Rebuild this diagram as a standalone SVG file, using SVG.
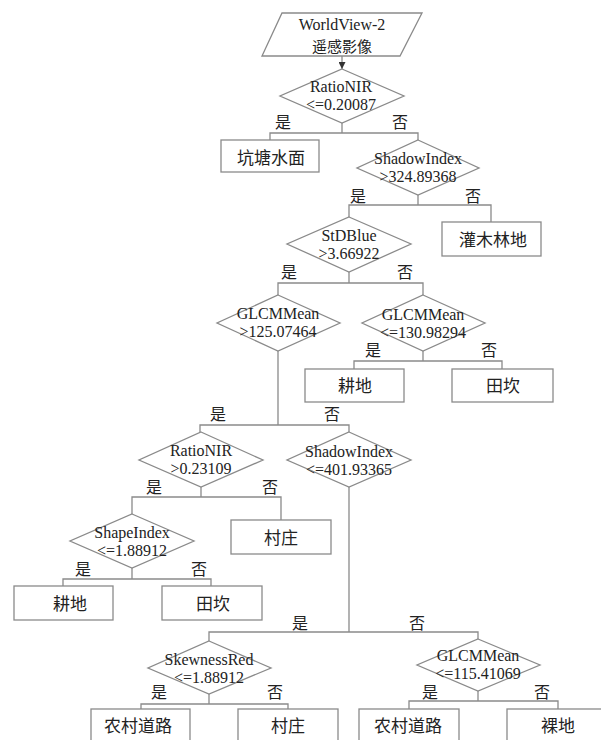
<svg xmlns="http://www.w3.org/2000/svg" width="601" height="740" viewBox="0 0 601 740">
<style>
.shape{fill:#fff;stroke:#8a8a8a;stroke-width:1.3}
.ln{fill:none;stroke:#8a8a8a;stroke-width:1.3}
text{font-family:"Liberation Serif","Noto Sans CJK SC",serif;fill:#222;text-anchor:middle}
.t{font-size:16px}
.c{font-size:17px;font-family:"Noto Sans CJK SC","Liberation Serif",serif}
.y{font-size:16px;font-family:"Noto Sans CJK SC","Liberation Serif",serif}
</style>
<defs>
<marker id="arr" viewBox="0 0 8 8" refX="8" refY="4" markerWidth="7" markerHeight="7" orient="auto" markerUnits="userSpaceOnUse">
<path d="M0,0 L8,4 L0,8 Z" fill="#333"/>
</marker>
</defs>
<rect width="601" height="740" fill="#fff"/>
<g id="connectors">
<line class="ln" x1="342" y1="56" x2="342" y2="69" marker-end="url(#arr)"/>
<path class="ln" d="M342,123 V133 M270,140 V133 H418 V140"/>
<path class="ln" d="M418,195 V205 M349,217 V205 H491 V222"/>
<path class="ln" d="M349,272 V283 M278,295 V283 H423 V295"/>
<path class="ln" d="M423,351 V361 M354,369 V361 H502 V369"/>
<path class="ln" d="M278,351 V425 M200,432 V425 H349 V432"/>
<path class="ln" d="M201,487 V497 M132,514 V497 H281 V520"/>
<path class="ln" d="M132,568 V579 M63,586 V579 H211 V586"/>
<path class="ln" d="M349,487 V632 M209,641 V632 H478 V639"/>
<path class="ln" d="M209,694 V704 M141,709 V704 H288 V709"/>
<path class="ln" d="M478,691 V701 M409,709 V701 H558 V709"/>
<g class="y">
<text x="283" y="128">是</text><text x="400" y="128">否</text>
<text x="358" y="202">是</text><text x="473" y="202">否</text>
<text x="289" y="278">是</text><text x="405" y="278">否</text>
<text x="373" y="356">是</text><text x="489" y="356">否</text>
<text x="218" y="420">是</text><text x="332" y="420">否</text>
<text x="154" y="493">是</text><text x="270" y="493">否</text>
<text x="83" y="575">是</text><text x="199" y="575">否</text>
<text x="300" y="629">是</text><text x="417" y="629">否</text>
<text x="159" y="698">是</text><text x="275" y="698">否</text>
<text x="430" y="698">是</text><text x="542" y="698">否</text>
</g>
</g>
<g id="input">
<polygon class="shape" points="282,13 422,13 400,56 262,56"/>
<text class="t" x="342" y="29.5">WorldView-2</text>
<text class="y" x="342" y="51.5" style="font-size:15px">遥感影像</text>
</g>
<g id="d1">
<polygon class="shape" points="342,69 404,96 342,123 280,96"/>
<text class="t" x="341" y="92">RatioNIR</text>
<text class="t" x="341" y="110">&lt;=0.20087</text>
</g>
<g id="b-pond">
<rect class="shape" x="221" y="140" width="98" height="32"/>
<text class="c" x="271" y="164">坑塘水面</text>
</g>
<g id="d2">
<polygon class="shape" points="418,140 479,168 418,195 357,168"/>
<text class="t" x="418" y="164">ShadowIndex</text>
<text class="t" x="418" y="182">&gt;324.89368</text>
</g>
<g id="b-shrub">
<rect class="shape" x="442" y="222" width="99" height="34"/>
<text class="c" x="493" y="246">灌木林地</text>
</g>
<g id="d3">
<polygon class="shape" points="349,217 411,244 349,272 287,244"/>
<text class="t" x="349" y="241">StDBlue</text>
<text class="t" x="349" y="259">&gt;3.66922</text>
</g>
<g id="d4">
<polygon class="shape" points="278,295 340,323 278,351 217,323"/>
<text class="t" x="278" y="319">GLCMMean</text>
<text class="t" x="278" y="337">&gt;125.07464</text>
</g>
<g id="d5">
<polygon class="shape" points="423,295 485,323 423,351 362,323"/>
<text class="t" x="423" y="320">GLCMMean</text>
<text class="t" x="423" y="338">&lt;=130.98294</text>
</g>
<g id="b-farm1">
<rect class="shape" x="305" y="369" width="99" height="33"/>
<text class="c" x="355" y="392">耕地</text>
</g>
<g id="b-ridge1">
<rect class="shape" x="452" y="369" width="101" height="33"/>
<text class="c" x="503" y="392">田坎</text>
</g>
<g id="d6">
<polygon class="shape" points="201,432 263,460 201,487 139,460"/>
<text class="t" x="201" y="456">RatioNIR</text>
<text class="t" x="201" y="474">&gt;0.23109</text>
</g>
<g id="d7">
<polygon class="shape" points="349,432 411,460 349,487 287,460"/>
<text class="t" x="349" y="457">ShadowIndex</text>
<text class="t" x="349" y="475">&lt;=401.93365</text>
</g>
<g id="b-village1">
<rect class="shape" x="231" y="520" width="100" height="34"/>
<text class="c" x="281" y="544">村庄</text>
</g>
<g id="d8">
<polygon class="shape" points="132,514 194,541 132,568 70,541"/>
<text class="t" x="132" y="538">ShapeIndex</text>
<text class="t" x="132" y="556">&lt;=1.88912</text>
</g>
<g id="b-farm2">
<rect class="shape" x="14" y="586" width="99" height="34"/>
<text class="c" x="70" y="610">耕地</text>
</g>
<g id="b-ridge2">
<rect class="shape" x="162" y="586" width="100" height="34"/>
<text class="c" x="213" y="610">田坎</text>
</g>
<g id="d9">
<polygon class="shape" points="209,641 271,668 209,694 148,668"/>
<text class="t" x="209" y="665">SkewnessRed</text>
<text class="t" x="209" y="683">&lt;=1.88912</text>
</g>
<g id="d10">
<polygon class="shape" points="478,639 540,665 478,691 417,665"/>
<text class="t" x="478" y="661">GLCMMean</text>
<text class="t" x="478" y="679">&lt;=115.41069</text>
</g>
<g id="b-road1">
<rect class="shape" x="91" y="709" width="99" height="40"/>
<text class="c" x="138" y="732">农村道路</text>
</g>
<g id="b-village2">
<rect class="shape" x="238" y="709" width="100" height="40"/>
<text class="c" x="288" y="732">村庄</text>
</g>
<g id="b-road2">
<rect class="shape" x="359" y="709" width="100" height="40"/>
<text class="c" x="408" y="732">农村道路</text>
</g>
<g id="b-bare">
<rect class="shape" x="507" y="709" width="100" height="40"/>
<text class="c" x="558" y="732">裸地</text>
</g>
</svg>
